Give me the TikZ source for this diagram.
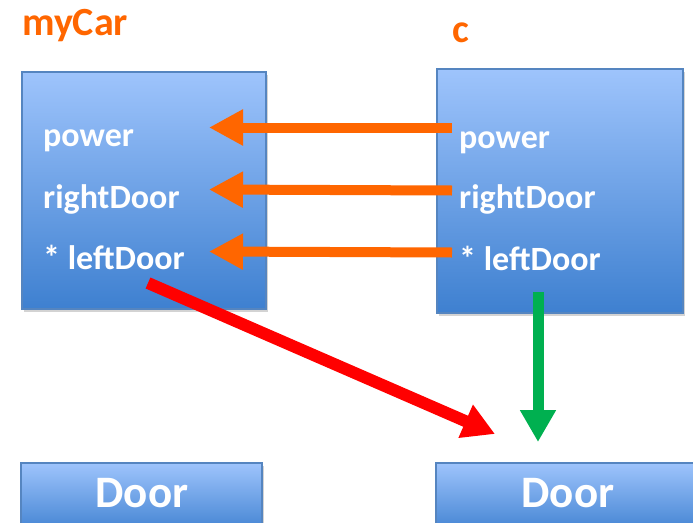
\documentclass[tikz,border=0pt]{standalone}
\usepackage{fontspec}
\setmainfont{Carlito}
\usetikzlibrary{arrows.meta,shadows}
\definecolor{boxtop}{HTML}{9EC4FC}
\definecolor{boxmid}{HTML}{80B0F2}
\definecolor{boxbot}{HTML}{3E80D0}
\definecolor{boxline}{HTML}{5585C0}
\definecolor{myorange}{HTML}{FF6600}
\definecolor{myred}{HTML}{FF0000}
\definecolor{mygreen}{HTML}{00B050}
\tikzset{
  objbox/.style={draw=boxline, line width=1.2pt, rectangle, inner sep=0pt,
    top color=boxtop, middle color=boxmid, bottom color=boxbot,
    drop shadow={shadow xshift=2pt, shadow yshift=-3pt, opacity=0.35, fill=gray}},
  field/.style={anchor=base west, text=white, font=\bfseries\fontsize{34}{37}\selectfont, inner sep=0pt},
  title/.style={anchor=base west, text=myorange, font=\bfseries\fontsize{40}{43}\selectfont, inner sep=0pt},
  doortext/.style={anchor=base, text=white, font=\bfseries\fontsize{45}{48}\selectfont, inner sep=0pt},
  orangearrow/.style={draw=myorange, line width=10pt, -{Triangle[length=34pt,width=34pt]}},
  redarrow/.style={draw=myred, line width=12pt, -{Triangle[length=32pt,width=34pt]}},
  greenarrow/.style={draw=mygreen, line width=11pt, -{Triangle[length=32pt,width=34pt]}},
}
\begin{document}
\begin{tikzpicture}[x=1pt,y=-1pt]
\useasboundingbox (0,0) rectangle (693,522);
\clip (0,0) rectangle (693,522);
% titles
\node[title] (tmycar) at (22,35) {myCar};
\node[title] (tc) at (452,42) {c};
% boxes
\node[objbox, minimum width=244pt, minimum height=237pt] (mycar) at (144,190.5) {};
\node[objbox, minimum width=246pt, minimum height=244pt] (cbox) at (560,191) {};
\node[objbox, minimum width=241pt, minimum height=72pt] (door1) at (141.5,499) {};
\node[objbox, minimum width=264pt, minimum height=72pt] (door2) at (568,499) {};
% fields
\node[field] (lpower) at (43,146.5) {power};
\node[field] (lright) at (43,208) {rightDoor};
\node[field] (lleft) at (43,269) {* leftDoor};
\node[field] (rpower) at (459,148) {power};
\node[field] (rright) at (459,208) {rightDoor};
\node[field] (rleft) at (459,270) {* leftDoor};
% door labels
\node[doortext] (d1) at (142,507) {Door};
\node[doortext] (d2) at (568,507) {Door};
% arrow coordinates
\coordinate (sp) at (452,127.5);
\coordinate (tp) at (209,127.5);
\coordinate (sr) at (452,190.5);
\coordinate (tr) at (209,189.5);
\coordinate (sl) at (452,252.5);
\coordinate (tl) at (209,251.5);
\coordinate (rs) at (148,283);
\coordinate (rt) at (495,434);
\coordinate (gs) at (538,292);
\coordinate (gt) at (538,442);
\draw[orangearrow] (sp) -- (tp);
\draw[orangearrow] (sr) -- (tr);
\draw[orangearrow] (sl) -- (tl);
\draw[redarrow] (rs) -- (rt);
\draw[greenarrow] (gs) -- (gt);
\end{tikzpicture}
\end{document}
